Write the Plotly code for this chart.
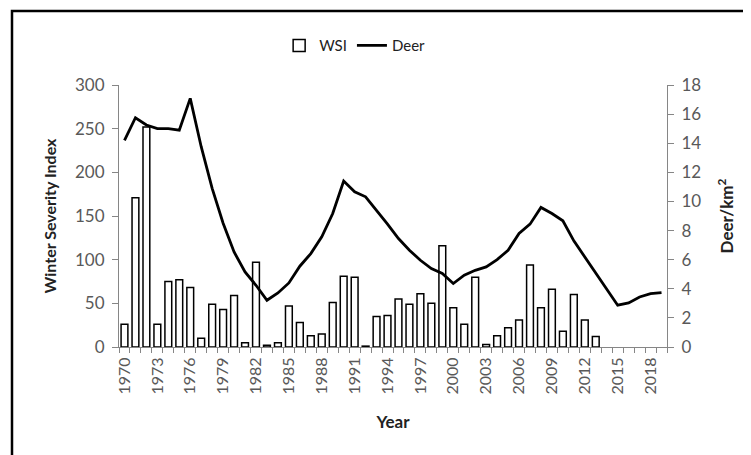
import plotly.graph_objects as go

years = list(range(1970, 2020))
wsi = [26, 171, 252, 26, 75, 77, 68, 10, 49, 43,
       59, 5, 97, 2, 5, 47, 28, 13, 15, 51,
       81, 80, 1, 35, 36, 55, 49, 61, 50, 116,
       45, 26, 80, 3, 13, 22, 31, 94, 45, 66,
       18, 60, 31, 12, None, None, None, None, None, None]
deer = [14.2, 15.75, 15.25, 15.0, 15.0, 14.9, 17.08, 13.76, 10.9, 8.5,
        6.53, 5.16, 4.24, 3.21, 3.71, 4.4, 5.55, 6.42, 7.57, 9.17,
        11.4, 10.66, 10.32, 9.4, 8.44, 7.45, 6.65, 5.96, 5.39, 5.05,
        4.36, 4.93, 5.27, 5.5, 6.0, 6.65, 7.8, 8.44, 9.59, 9.17,
        8.67, 7.29, 6.19, 5.0, 3.9, 2.87, 3.03, 3.44, 3.67, 3.74]
tick_years = list(range(1970, 2019, 3))

FONT = "Lato"
AX = "#868686"
TXT = "#595959"

# page body adds an 8px offset; plot area target (screen): x 119-667, y 85-347
L, T, PW, PH = 111, 77, 548, 262

fig = go.Figure()
fig.add_trace(go.Bar(
    x=years, y=wsi, name="WSI",
    marker=dict(color="white", line=dict(color="black", width=1.5)),
))
fig.add_trace(go.Scatter(
    x=years, y=deer, name="Deer", yaxis="y2", mode="lines",
    line=dict(color="black", width=2.8),
))

fig.update_layout(
    width=751, height=455,
    margin=dict(l=L, r=751 - L - PW, t=T, b=455 - T - PH),
    paper_bgcolor="white", plot_bgcolor="white",
    bargap=0.38,
    font=dict(family=FONT, size=16, color=TXT),
    showlegend=True,
    legend=dict(orientation="h", x=0.43, y=1.15, xanchor="center", yanchor="middle",
                font=dict(size=15, color="#222"), itemwidth=30,
                bgcolor="rgba(0,0,0,0)"),
    xaxis=dict(
        range=[1969.5, 2019.5], tickmode="array", tickvals=tick_years,
        ticktext=[str(y) for y in tick_years], tickangle=-90,
        ticks="", showline=True, linecolor=AX, linewidth=1,
        showgrid=False, zeroline=False, ticklabelstandoff=3,
        minor=dict(tick0=0.5, dtick=1, ticks="outside", ticklen=5,
                   tickcolor=AX, showgrid=False),
        title=dict(text="<b>Year</b>", font=dict(size=17, color="#222"), standoff=22),
        tickfont=dict(size=16, color=TXT),
    ),
    yaxis=dict(
        range=[0, 300], dtick=50, ticks="outside", ticklen=6, tickcolor=AX,
        showline=True, linecolor=AX, linewidth=1, showgrid=False, zeroline=False,
        ticklabelstandoff=4,
        title=dict(text="<b>Winter Severity Index</b>", font=dict(size=16, color="#222"), standoff=14),
        tickfont=dict(size=17, color=TXT),
    ),
    yaxis2=dict(
        range=[0, 18], dtick=2, overlaying="y", side="right",
        ticks="outside", ticklen=6, tickcolor=AX,
        showline=True, linecolor=AX, linewidth=1, showgrid=False, zeroline=False,
        ticklabelstandoff=4,
        title=dict(text="<b>Deer/km<sup>2</sup></b>", font=dict(size=17, color="#222"), standoff=20),
        tickfont=dict(size=17, color=TXT),
    ),
    shapes=[dict(type="rect", xref="paper", yref="paper",
                 x0=(12 - 119) / PW, x1=(770 - 119) / PW,
                 y0=(347 - 470) / PH, y1=(347 - 11) / PH,
                 line=dict(color="black", width=2.5), fillcolor="rgba(0,0,0,0)",
                 layer="below")],
)

fig.write_html("out.html")
